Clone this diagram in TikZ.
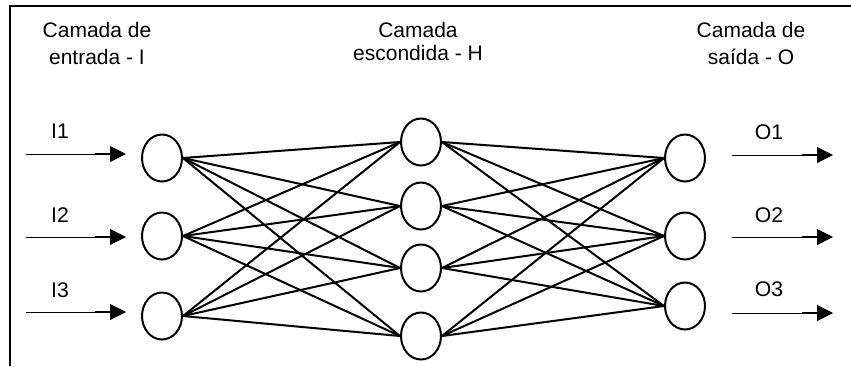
\documentclass[tikz,border=0pt]{standalone}
\usepackage{fontspec}
\setmainfont{Liberation Sans}
\usetikzlibrary{arrows.meta,shapes.geometric}

\tikzset{
  neuron/.style={draw, ellipse, line width=1pt, minimum width=20pt, minimum height=23.5pt, inner sep=0pt},
  sinapse/.style={line width=1pt},
  seta/.style={line width=0.5pt, -{Rectangle[length=7.5pt,width=1.1pt]Triangle[length=8pt,width=8pt]}},
  rotulo/.style={anchor=base, inner sep=0pt, font=\fontsize{10.6}{12}\selectfont},
  titulo/.style={anchor=north, align=center, inner sep=0pt},
}

\begin{document}
\begin{tikzpicture}[x=0.5pt, y=-0.5pt]
    \useasboundingbox (0,0) rectangle (851,366);

    % Moldura
    \draw[line width=1.25pt] (10,366) -- (10,6) -- (851,6);

    % Titulos das camadas
    \node[titulo, font=\fontsize{10.5}{13.3}\selectfont] (tEntrada) at (97,22) {Camada de\\entrada - I};
    \node[titulo, font=\fontsize{10.5}{11.3}\selectfont] (tEscondida) at (418,22) {Camada\\escondida - H};
    \node[titulo, font=\fontsize{10.5}{13.5}\selectfont] (tSaida) at (751,22) {Camada de\\saída - O};

    % Neuronios
    \foreach \i/\y in {1/158,2/236,3/316}
        \node[neuron] (I\i) at (162,\y) {};
    \foreach \j/\y in {1/142,2/206,3/268,4/336}
        \node[neuron] (H\j) at (421,\y) {};
    \foreach \k/\y in {1/158,2/236,3/306}
        \node[neuron] (O\k) at (685,\y) {};

    % Ligacoes entre camadas
    \foreach \i in {1,2,3}
        \foreach \j in {1,...,4}
            \draw[sinapse] (I\i.east) -- (H\j.west);
    \foreach \j in {1,...,4}
        \foreach \k in {1,2,3}
            \draw[sinapse] (H\j.east) -- (O\k.west);

    % Entradas
    \foreach \i/\y/\t in {1/154/138,2/237/222,3/312/297} {
        \coordinate (ini\i) at (26,\y);
        \coordinate (fim\i) at (126,\y);
        \draw[seta] (ini\i) -- (fim\i);
        \node[rotulo] (lI\i) at (60,\t) {I\i};
    }

    % Saidas
    \foreach \k/\y/\t in {1/155/139,2/237/222,3/313/296} {
        \coordinate (sai\k) at (732,\y);
        \coordinate (out\k) at (833,\y);
        \draw[seta] (sai\k) -- (out\k);
        \node[rotulo] (lO\k) at (769,\t) {O\k};
    }
\end{tikzpicture}
\end{document}
